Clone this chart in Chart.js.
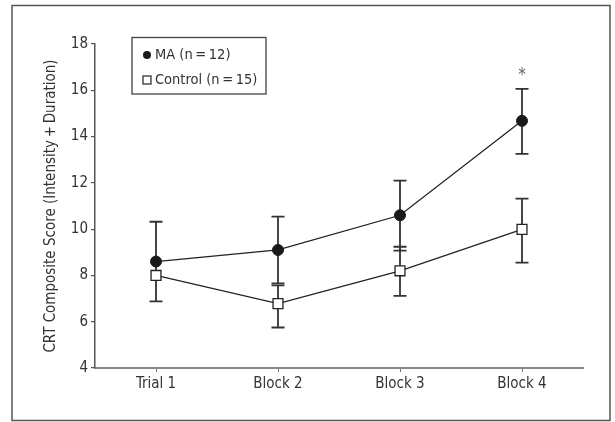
<!DOCTYPE html>
<html>
<head>
<meta charset="utf-8">
<script src="https://cdn.jsdelivr.net/npm/chart.js@4"></script>
<style>
  body { margin: 0; background: #fff; }
  #wrap { width: 615px; height: 422px; position: relative; }
</style>
</head>
<body>
<div id="wrap"><canvas id="crtChart"></canvas></div>
<script>
// values (null = no whisker visible)
const categories = ["Trial 1", "Block 2", "Block 3", "Block 4"];
const maMeans = [8.6, 9.1, 10.6, 14.68];
const maHigh = [10.32, 10.54, 12.1, 16.06];
const maLow = [6.88, 7.66, 9.07, 13.25];
const ctrlMeans = [8.0, 6.78, 8.2, 9.99];
const ctrlHigh = [null, 7.57, 9.24, 11.32];
const ctrlLow = [null, 5.75, 7.12, 8.55];
const yMin = 4, yMax = 18, yStep = 2;
const yTitle = "CRT Composite Score (Intensity\u2009+\u2009Duration)";
const maLabel = "MA (n\u2009=\u200912)";
const ctrlLabel = "Control (n\u2009=\u200915)";
const starIndex = 3;
const starText = "*";

const FONT = "'Liberation Sans Narrow', 'DejaVu Sans Condensed', Arial, sans-serif";
const INK = "#222";

// white background + outer frame
const framePlugin = {
  id: "frame",
  beforeDraw(chart) {
    const ctx = chart.ctx;
    ctx.save();
    ctx.fillStyle = "#fff";
    ctx.fillRect(0, 0, chart.width, chart.height);
    ctx.strokeStyle = "#555";
    ctx.lineWidth = 1.5;
    ctx.strokeRect(12, 5.5, 598, 415);
    ctx.restore();
  },
};

// error bars, drawn under the markers
const errorBarPlugin = {
  id: "errorBars",
  beforeDatasetsDraw(chart) {
    const ctx = chart.ctx;
    const x = chart.scales.x, y = chart.scales.y;
    ctx.save();
    ctx.strokeStyle = "#333";
    ctx.lineWidth = 1.8;
    chart.data.datasets.forEach(function (ds) {
      ds.data.forEach(function (v, i) {
        if (ds.errHigh[i] == null) return;
        const px = x.getPixelForValue(i);
        const top = y.getPixelForValue(ds.errHigh[i]);
        const bot = y.getPixelForValue(ds.errLow[i]);
        ctx.beginPath();
        ctx.moveTo(px, top); ctx.lineTo(px, bot);
        ctx.moveTo(px - 6.5, top); ctx.lineTo(px + 6.5, top);
        ctx.moveTo(px - 6.5, bot); ctx.lineTo(px + 6.5, bot);
        ctx.stroke();
      });
    });
    ctx.restore();
  },
};

// boxed legend + significance star
const legendPlugin = {
  id: "boxLegend",
  afterDraw(chart) {
    const ctx = chart.ctx;
    ctx.save();
    ctx.strokeStyle = "#444";
    ctx.lineWidth = 1.3;
    ctx.strokeRect(132, 37.5, 134, 56.5);

    ctx.fillStyle = "#1a1a1a";
    ctx.beginPath();
    ctx.arc(147, 55, 4, 0, Math.PI * 2);
    ctx.fill();

    ctx.fillStyle = "#fff";
    ctx.strokeStyle = INK;
    ctx.lineWidth = 1.2;
    ctx.fillRect(143, 76, 8, 8);
    ctx.strokeRect(143, 76, 8, 8);

    ctx.fillStyle = "#333";
    ctx.font = "14.5px " + FONT;
    ctx.textBaseline = "middle";
    ctx.textAlign = "left";
    ctx.fillText(chart.data.datasets[0].label, 155, 55);
    ctx.fillText(chart.data.datasets[1].label, 155, 80);

    const sx = chart.scales.x.getPixelForValue(starIndex);
    const sy = chart.scales.y.getPixelForValue(maHigh[starIndex]) - 13;
    ctx.fillStyle = "#666";
    ctx.textAlign = "center";
    ctx.font = "17px " + FONT;
    ctx.fillText(starText, sx, sy);
    ctx.restore();
  },
};

document.addEventListener("DOMContentLoaded", function () {
  const canvas = document.getElementById("crtChart");
  canvas.width = 615;
  canvas.height = 422;
  new Chart(canvas.getContext("2d"), {
    type: "line",
    data: {
      labels: categories,
      datasets: [
        {
          label: maLabel,
          data: maMeans,
          errHigh: maHigh,
          errLow: maLow,
          borderColor: INK,
          borderWidth: 1.3,
          tension: 0,
          pointStyle: "circle",
          pointRadius: 5.5,
          pointBackgroundColor: "#1a1a1a",
          pointBorderColor: "#1a1a1a",
          pointBorderWidth: 1,
        },
        {
          label: ctrlLabel,
          data: ctrlMeans,
          errHigh: ctrlHigh,
          errLow: ctrlLow,
          borderColor: INK,
          borderWidth: 1.3,
          tension: 0,
          pointStyle: "rect",
          pointRadius: 7,
          pointBackgroundColor: "#fff",
          pointBorderColor: INK,
          pointBorderWidth: 1.3,
        },
      ],
    },
    options: {
      responsive: false,
      animation: false,
      layout: { padding: { left: 0, right: 32, top: 44, bottom: 0 } },
      plugins: {
        legend: { display: false },
        tooltip: { enabled: false },
      },
      scales: {
        x: {
          offset: true,
          grid: { drawOnChartArea: false, tickLength: 4, color: "#777", lineWidth: 1 },
          border: { color: "#888", width: 2 },
          ticks: { color: "#333", padding: 3, font: { family: FONT, size: 15 } },
          afterFit(scale) { scale.height = 54; },
        },
        y: {
          min: yMin,
          max: yMax,
          grid: { drawOnChartArea: false, tickLength: 4, color: "#555", lineWidth: 1.2 },
          border: { color: "#555", width: 1.5 },
          ticks: { stepSize: yStep, color: "#333", padding: 3, font: { family: FONT, size: 15 } },
          title: {
            display: true,
            text: yTitle,
            color: "#333",
            padding: { top: 42, bottom: 0 },
            font: { family: FONT, size: 15 },
          },
          afterFit(scale) { scale.width = 95; },
        },
      },
    },
    plugins: [framePlugin, errorBarPlugin, legendPlugin],
  });
});
</script>
</body>
</html>
